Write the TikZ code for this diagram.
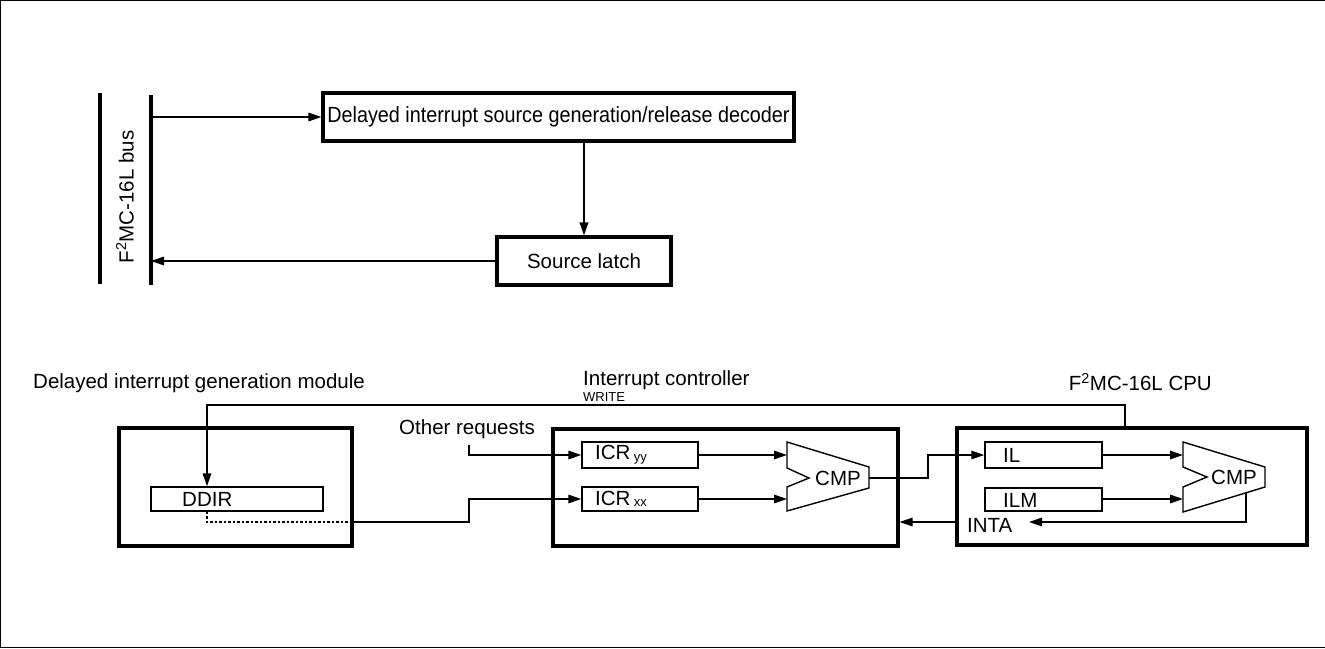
\documentclass[tikz,border=0pt]{standalone}
\usepackage{fontspec}
\setmainfont{Liberation Sans}
\usetikzlibrary{arrows.meta}
\begin{document}
\begin{tikzpicture}[x=1pt,y=-1pt,
  bigbox/.style={draw,line width=3.1pt,inner sep=0pt},
  regbox/.style={draw,line width=1.4pt,inner sep=0pt},
  lbl/.style={inner sep=0pt,font=\fontsize{20.5}{24}\selectfont},
  smalllbl/.style={inner sep=0pt,font=\fontsize{13}{15}\selectfont},
  conn/.style={line width=1.6pt},
  arr/.style={line width=1.6pt,-{Triangle[length=13pt,width=8.5pt]}},
  busline/.style={line width=3.1pt},
  cmpshape/.style={draw,line width=1.4pt}
]
\useasboundingbox (0,0) rectangle (1325,648);
% frame
\draw[line width=1pt] (1325,0.5) -- (0.5,0.5) -- (0.5,647) -- (1325,647);

% ---------- top part ----------
\draw[busline] (100,93) -- (100,284);
\draw[busline] (151,95) -- (151,285);
\node[lbl,rotate=90] (buslbl) at (125,197) {F\textsuperscript{2}MC-16L bus};
\coordinate (busin) at (151,117);
\coordinate (busout) at (151,261);

\node[bigbox,minimum width=471pt,minimum height=48pt] (dec) at (558.5,117) {};
\node[lbl,font=\fontsize{22}{26}\selectfont] (dectext) at (558.5,117) {\scalebox{0.9}[1]{Delayed interrupt source generation/release decoder}};
\node[bigbox,minimum width=174pt,minimum height=48pt,lbl] (latch) at (584,261) {Source latch};

\draw[arr] (busin) -- (dec.west);
\draw[arr] (latch.north |- dec.south) -- (latch.north);
\draw[arr] (latch.west) -- (busout);

% ---------- bottom part ----------
\node[lbl,anchor=west] (modlbl) at (33,383) {Delayed interrupt generation module};
\node[lbl,anchor=west] (iclbl) at (583,380) {Interrupt controller};
\node[smalllbl,anchor=west] (writelbl) at (583,397) {WRITE};
\node[lbl,anchor=east] (cpulbl) at (1212,382) {F\textsuperscript{2}MC-16L CPU};
\node[lbl,anchor=west] (otherlbl) at (399,429) {Other requests};

% module box
\node[bigbox,minimum width=233pt,minimum height=118pt] (modbox) at (235.5,487) {};
\node[regbox,minimum width=172pt,minimum height=24pt] (ddir) at (237,499) {};
\node[lbl,anchor=west] (ddirtext) at (182,499) {DDIR};

% interrupt controller box
\node[bigbox,minimum width=345pt,minimum height=117pt] (icbox) at (725.5,487.5) {};
\node[regbox,minimum width=116pt,minimum height=26pt] (icryy) at (640,455) {};
\node[lbl,anchor=west] (icryytext) at (595,455) {ICR\,\raisebox{-2pt}{\fontsize{13}{15}\selectfont yy}};
\node[regbox,minimum width=116pt,minimum height=24pt] (icrxx) at (640,499) {};
\node[lbl,anchor=west] (icrxxtext) at (595,499) {ICR\,\raisebox{-1pt}{\fontsize{13}{15}\selectfont xx}};
\draw[cmpshape] (787,442) -- (787,468) -- (809,478) -- (787,487) -- (787,511) -- (869,488) -- (869,467) -- cycle;
\node[lbl] (cmp1) at (838,478) {CMP};
\coordinate (cmp1in1) at (787,455);
\coordinate (cmp1in2) at (787,499);
\coordinate (cmp1out) at (869,478);

% CPU box
\node[bigbox,minimum width=350pt,minimum height=117pt] (cpubox) at (1132,486.5) {};
\node[regbox,minimum width=117pt,minimum height=26pt] (il) at (1043.5,455) {};
\node[lbl,anchor=west] (iltext) at (1003,455) {IL};
\node[regbox,minimum width=117pt,minimum height=23pt] (ilm) at (1043.5,499.5) {};
\node[lbl,anchor=west] (ilmtext) at (1003,500) {ILM};
\draw[cmpshape] (1183,442) -- (1183,467) -- (1207,477) -- (1183,487) -- (1183,512) -- (1265,487) -- (1265,467) -- cycle;
\node[lbl] (cmp2) at (1234,477) {CMP};
\coordinate (cmp2in1) at (1183,455);
\coordinate (cmp2in2) at (1183,499);
\coordinate (cmp2out) at (1246,493);
\node[lbl,anchor=west] (inta) at (967,525) {INTA};
\coordinate (intatip) at (1029,522);

% connectors
\coordinate (wtop) at (1125,428);
\draw[arr] (wtop) -- (1125,405) -- (207,405) -- (ddir.north -| 207,0);
\draw[line width=1.3pt,dash pattern=on 2.5pt off 2pt] (ddir.south -| 207,0) -- (207,522) -- (modbox.east |- 0,522);
\draw[arr] (modbox.east |- 0,522) -- (469,522) -- (469,499) -- (icrxx.west);
\draw[arr] (469,445) -- (469,455) -- (icryy.west);
\draw[arr] (icryy.east) -- (cmp1in1);
\draw[arr] (icrxx.east) -- (cmp1in2);
\draw[arr] (cmp1out) -- (928,478) -- (928,455) -- (il.west);
\draw[arr] (il.east) -- (cmp2in1);
\draw[arr] (ilm.east |- cmp2in2) -- (cmp2in2);
\draw[arr] (cmp2out) -- (1246,522) -- (intatip);
\draw[arr] (cpubox.west |- 0,522) -- (icbox.east |- 0,522);
\end{tikzpicture}
\end{document}
